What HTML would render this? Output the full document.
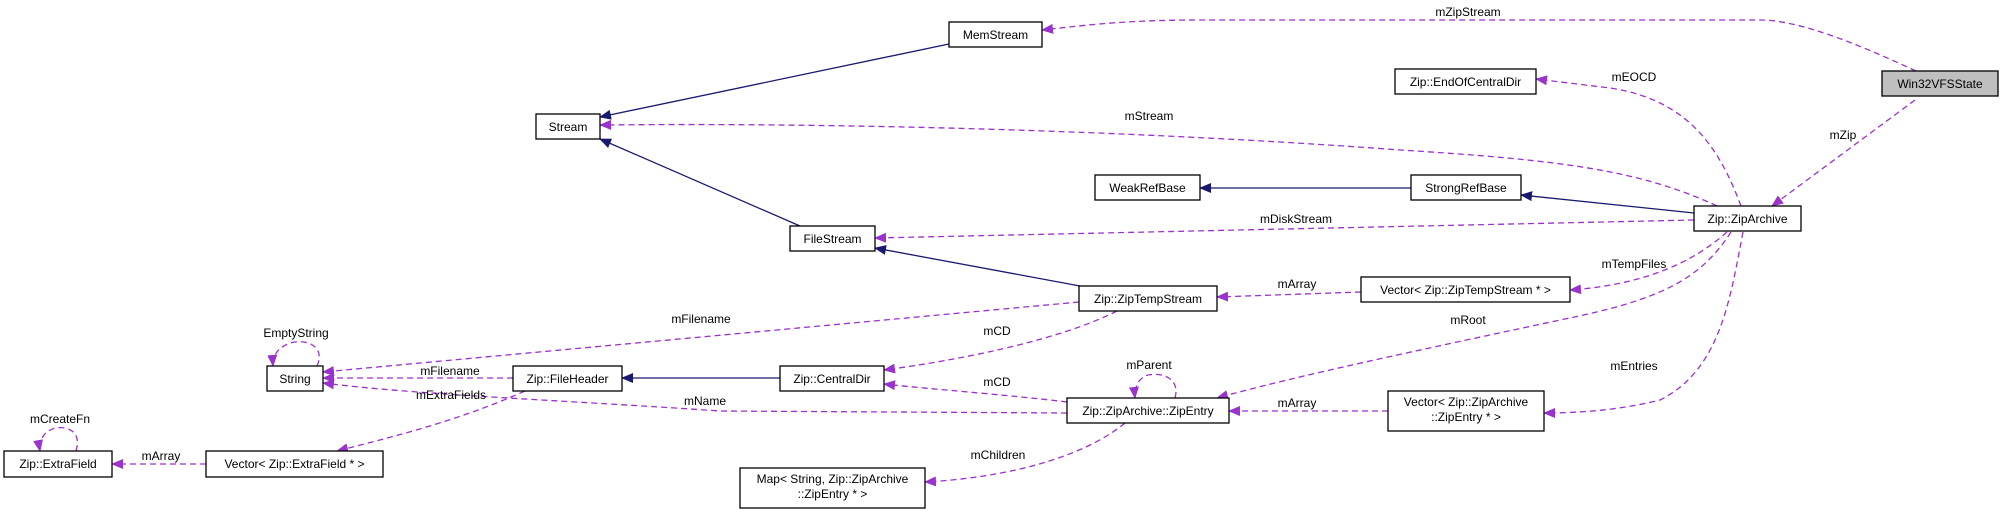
<!DOCTYPE html>
<html><head><meta charset="utf-8"><style>
html,body{margin:0;padding:0;background:#fff;}
svg{display:block;}
text{font-family:"Liberation Sans",sans-serif;font-size:12px;fill:#000;}
.n{fill:#fff;stroke:#000;stroke-width:1.3;}
.d{fill:none;stroke:#9a32cd;stroke-width:1.3;stroke-dasharray:6,4;}
.s{fill:none;stroke:#191970;stroke-width:1.3;}
</style></head><body>
<svg width="2004" height="514" viewBox="0 0 2004 514" xmlns="http://www.w3.org/2000/svg">
<defs>
<marker id="pa" markerWidth="12" markerHeight="10" refX="11" refY="5" orient="auto" markerUnits="userSpaceOnUse"><path d="M0,0 L12,5 L0,10 Z" fill="#9a32cd"/></marker>
<marker id="na" markerWidth="12" markerHeight="10" refX="11" refY="5" orient="auto" markerUnits="userSpaceOnUse"><path d="M0,0 L12,5 L0,10 Z" fill="#191970"/></marker>
</defs>

<!-- solid inheritance edges -->
<path class="s" d="M949,44 L600,117" marker-end="url(#na)"/>
<path class="s" d="M800,226 L600,139" marker-end="url(#na)"/>
<path class="s" d="M1080,286 L875,248" marker-end="url(#na)"/>
<path class="s" d="M1411,188 L1200,188" marker-end="url(#na)"/>
<path class="s" d="M1694,213 L1521,195" marker-end="url(#na)"/>
<path class="s" d="M780,378 L622,378" marker-end="url(#na)"/>

<!-- dashed usage edges -->
<path class="d" d="M1916,71 C1860,45 1800,20 1760,20 L1200,20 C1120,20 1080,26 1042,30" marker-end="url(#pa)"/>
<path class="d" d="M1915,100 L1772,206" marker-end="url(#pa)"/>
<path class="d" d="M1741,206 C1720,150 1690,100 1610,88 L1536,79" marker-end="url(#pa)"/>
<path class="d" d="M1717,206 C1640,170 1560,160 1400,150 C1200,135 900,122 600,125" marker-end="url(#pa)"/>
<path class="d" d="M1694,220 L875,238" marker-end="url(#pa)"/>
<path class="d" d="M1727,232 C1690,265 1640,285 1570,290" marker-end="url(#pa)"/>
<path class="d" d="M1731,232 C1700,280 1660,300 1560,320 C1420,350 1300,375 1217,398" marker-end="url(#pa)"/>
<path class="d" d="M1743,232 C1730,300 1720,370 1660,400 C1620,410 1580,413 1544,413" marker-end="url(#pa)"/>
<path class="d" d="M1361,292 L1217,297" marker-end="url(#pa)"/>
<path class="d" d="M1388,411 L1229,411" marker-end="url(#pa)"/>
<path class="d" d="M1079,302 L323,372" marker-end="url(#pa)"/>
<path class="d" d="M1117,311 C1060,340 960,360 884,370" marker-end="url(#pa)"/>
<path class="d" d="M1067,402 C1010,395 940,390 884,384" marker-end="url(#pa)"/>
<path class="d" d="M1067,413 L720,411 C560,400 420,395 323,383" marker-end="url(#pa)"/>
<path class="d" d="M513,378 L323,378" marker-end="url(#pa)"/>
<path class="d" d="M525,391 C460,420 400,435 337,451" marker-end="url(#pa)"/>
<path class="d" d="M206,464 L112,464" marker-end="url(#pa)"/>
<path class="d" d="M1125,423 C1080,460 1000,478 925,482" marker-end="url(#pa)"/>
<!-- self loops -->
<path class="d" d="M1175,398 C1180,380 1165,372 1148,375 C1138,378 1134,388 1135,398" marker-end="url(#pa)"/>
<path class="d" d="M317,366 C325,348 310,340 295,342 C283,344 272,352 273,366" marker-end="url(#pa)"/>
<path class="d" d="M76,451 C82,432 68,426 56,428 C45,430 38,440 40,451" marker-end="url(#pa)"/>

<!-- nodes -->
<rect class="n" x="949" y="22" width="93" height="25"/><text x="995.5" y="39" text-anchor="middle">MemStream</text>
<rect class="n" x="536" y="114" width="64" height="25"/><text x="568" y="131" text-anchor="middle">Stream</text>
<rect class="n" x="1882" y="71" width="116" height="25" style="fill:#bfbfbf"/><text x="1940" y="88" text-anchor="middle">Win32VFSState</text>
<rect class="n" x="1395" y="69" width="141" height="25"/><text x="1465.5" y="86" text-anchor="middle">Zip::EndOfCentralDir</text>
<rect class="n" x="1095" y="175" width="105" height="25"/><text x="1147.5" y="192" text-anchor="middle">WeakRefBase</text>
<rect class="n" x="1411" y="175" width="110" height="25"/><text x="1466" y="192" text-anchor="middle">StrongRefBase</text>
<rect class="n" x="1694" y="206" width="107" height="25"/><text x="1747.5" y="223" text-anchor="middle">Zip::ZipArchive</text>
<rect class="n" x="790" y="226" width="85" height="25"/><text x="832.5" y="243" text-anchor="middle">FileStream</text>
<rect class="n" x="1079" y="286" width="138" height="25"/><text x="1148" y="303" text-anchor="middle">Zip::ZipTempStream</text>
<rect class="n" x="1361" y="277" width="209" height="25"/><text x="1465.5" y="294" text-anchor="middle">Vector&lt; Zip::ZipTempStream * &gt;</text>
<rect class="n" x="267" y="366" width="56" height="25"/><text x="295" y="383" text-anchor="middle">String</text>
<rect class="n" x="513" y="366" width="109" height="25"/><text x="567.5" y="383" text-anchor="middle">Zip::FileHeader</text>
<rect class="n" x="780" y="366" width="104" height="25"/><text x="832" y="383" text-anchor="middle">Zip::CentralDir</text>
<rect class="n" x="1067" y="398" width="162" height="25"/><text x="1148" y="415" text-anchor="middle">Zip::ZipArchive::ZipEntry</text>
<rect class="n" x="1388" y="391" width="156" height="40"/><text x="1466" y="406" text-anchor="middle">Vector&lt; Zip::ZipArchive</text><text x="1466" y="421" text-anchor="middle">::ZipEntry * &gt;</text>
<rect class="n" x="4" y="451" width="108" height="26"/><text x="58" y="468" text-anchor="middle">Zip::ExtraField</text>
<rect class="n" x="206" y="451" width="177" height="26"/><text x="294.5" y="468" text-anchor="middle">Vector&lt; Zip::ExtraField * &gt;</text>
<rect class="n" x="740" y="468" width="185" height="40"/><text x="832.5" y="483" text-anchor="middle">Map&lt; String, Zip::ZipArchive</text><text x="832.5" y="498" text-anchor="middle">::ZipEntry * &gt;</text>

<!-- labels -->
<text x="1468" y="16" text-anchor="middle">mZipStream</text>
<text x="1634" y="81" text-anchor="middle">mEOCD</text>
<text x="1843" y="139" text-anchor="middle">mZip</text>
<text x="1149" y="120" text-anchor="middle">mStream</text>
<text x="1296" y="223" text-anchor="middle">mDiskStream</text>
<text x="1634" y="268" text-anchor="middle">mTempFiles</text>
<text x="1297" y="288" text-anchor="middle">mArray</text>
<text x="1468" y="324" text-anchor="middle">mRoot</text>
<text x="1634" y="370" text-anchor="middle">mEntries</text>
<text x="1297" y="407" text-anchor="middle">mArray</text>
<text x="997" y="335" text-anchor="middle">mCD</text>
<text x="997" y="386" text-anchor="middle">mCD</text>
<text x="1149" y="369" text-anchor="middle">mParent</text>
<text x="998" y="459" text-anchor="middle">mChildren</text>
<text x="701" y="323" text-anchor="middle">mFilename</text>
<text x="705" y="405" text-anchor="middle">mName</text>
<text x="450" y="375" text-anchor="middle">mFilename</text>
<text x="451" y="399" text-anchor="middle">mExtraFields</text>
<text x="296" y="337" text-anchor="middle">EmptyString</text>
<text x="60" y="423" text-anchor="middle">mCreateFn</text>
<text x="161" y="460" text-anchor="middle">mArray</text>
</svg>
</body></html>
